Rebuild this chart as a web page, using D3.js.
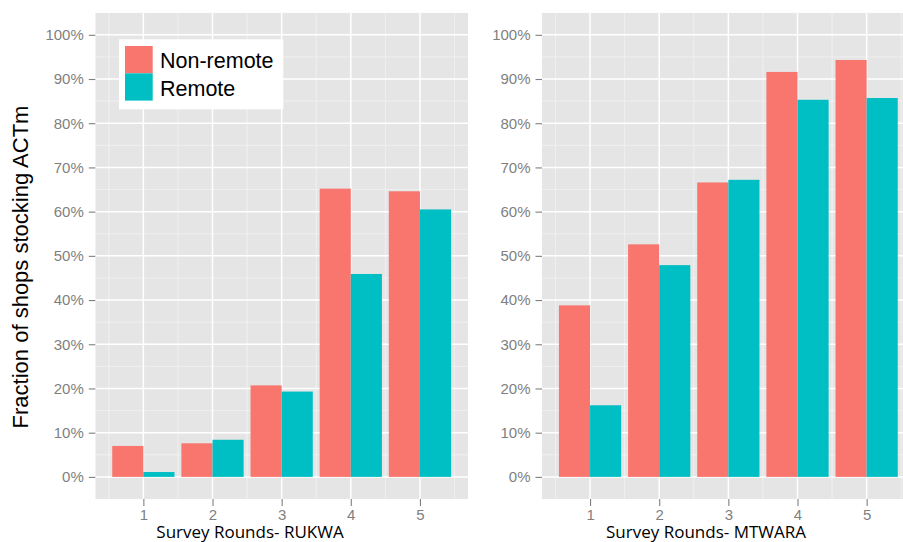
<!DOCTYPE html>
<html>
<head>
<meta charset="utf-8">
<script src="https://cdn.jsdelivr.net/npm/d3@7/dist/d3.min.js"></script>
<style>
  html, body { margin: 0; padding: 0; background: #fff; }
  svg { display: block; }
</style>
</head>
<body>
<div id="chart"></div>
<script>
// ---- Data ----
const rounds = [1, 2, 3, 4, 5];
const seriesNames = ["Non-remote", "Remote"];
const rukwaNonRemote = [7.0, 7.6, 20.7, 65.2, 64.6];
const rukwaRemote    = [1.1, 8.4, 19.3, 45.9, 60.5];
const mtwaraNonRemote = [38.8, 52.6, 66.6, 91.6, 94.3];
const mtwaraRemote    = [16.2, 47.9, 67.2, 85.3, 85.7];
const yTicks = [0, 10, 20, 30, 40, 50, 60, 70, 80, 90, 100];
const panelTitles = ["Survey Rounds- RUKWA", "Survey Rounds- MTWARA"];
const yTitle = "Fraction of shops stocking ACTm";

const colors = ["#F8766D", "#00BFC4"];
const W = 903, H = 542;

const svg = d3.select("#chart").append("svg")
  .attr("width", W).attr("height", H)
  .attr("font-family", "Liberation Sans, Arial, sans-serif");

const plotTop = 12.7, plotBottom = 499;
const y = d3.scaleLinear().domain([-5, 105]).range([plotBottom, plotTop]);

function drawPanel(x0, x1, nonRemote, remote, title, titleX, clipId) {
  const x = d3.scaleLinear().domain([0.305, 5.695]).range([x0, x1]);
  const clipRight = Math.min(x1, W);
  svg.append("clipPath").attr("id", clipId)
    .append("rect").attr("x", x0).attr("y", plotTop)
    .attr("width", clipRight - x0).attr("height", plotBottom - plotTop);
  const g = svg.append("g").attr("clip-path", `url(#${clipId})`);
  g.append("rect").attr("x", x0).attr("y", plotTop)
    .attr("width", x1 - x0).attr("height", plotBottom - plotTop).attr("fill", "#E5E5E5");

  // minor grid
  const minorY = yTicks.slice(0, -1).map(d => d + 5);
  g.selectAll(".minY").data(minorY).enter().append("line")
    .attr("x1", x0).attr("x2", x1).attr("y1", d => y(d)).attr("y2", d => y(d))
    .attr("stroke", "#F2F2F2").attr("stroke-width", 0.8);
  const minorX = rounds.map(d => d - 0.5).concat([5.5]);
  g.selectAll(".minX").data(minorX).enter().append("line")
    .attr("y1", plotTop).attr("y2", plotBottom).attr("x1", d => x(d)).attr("x2", d => x(d))
    .attr("stroke", "#F2F2F2").attr("stroke-width", 0.8);
  // major grid
  g.selectAll(".majY").data(yTicks).enter().append("line")
    .attr("x1", x0).attr("x2", x1).attr("y1", d => y(d)).attr("y2", d => y(d))
    .attr("stroke", "#FFFFFF").attr("stroke-width", 1.5);
  g.selectAll(".majX").data(rounds).enter().append("line")
    .attr("y1", plotTop).attr("y2", plotBottom).attr("x1", d => x(d)).attr("x2", d => x(d))
    .attr("stroke", "#FFFFFF").attr("stroke-width", 1.5);

  // bars
  const bw = 0.45;
  [nonRemote, remote].forEach((vals, si) => {
    g.selectAll(".bar" + si).data(rounds).enter().append("rect")
      .attr("x", (d) => x(d - bw + si * bw))
      .attr("width", (d) => x(d + si * bw) - x(d - bw + si * bw))
      .attr("y", (d, i) => y(vals[i]))
      .attr("height", (d, i) => y(0) - y(vals[i]))
      .attr("fill", colors[si]);
  });

  // y axis
  const yAxis = d3.axisLeft(y).tickValues(yTicks).tickSize(6.5).tickPadding(5)
    .tickFormat(d => d + "%");
  const ya = svg.append("g").attr("transform", `translate(${x0},0)`).call(yAxis);
  ya.select(".domain").remove();
  ya.selectAll("line").attr("stroke", "#7F7F7F").attr("stroke-width", 1.1);
  ya.selectAll("text").attr("fill", "#7F7F7F").attr("font-size", 15)
    .attr("font-family", "Liberation Sans, Arial, sans-serif");

  // x axis
  const xAxis = d3.axisBottom(x).tickValues(rounds).tickSize(7).tickPadding(3)
    .tickFormat(d3.format("d"));
  const xa = svg.append("g").attr("transform", `translate(0,${plotBottom})`).call(xAxis);
  xa.select(".domain").remove();
  xa.selectAll("line").attr("stroke", "#7F7F7F").attr("stroke-width", 1.1);
  xa.selectAll("text").attr("fill", "#7F7F7F").attr("font-size", 15)
    .attr("font-family", "Liberation Sans, Arial, sans-serif");

  svg.append("text").attr("x", titleX).attr("y", 538)
    .attr("text-anchor", "middle").attr("font-size", 17)
    .attr("font-family", "Open Sans, sans-serif").attr("fill", "#000")
    .text(title);
}

drawPanel(95.3, 468, rukwaNonRemote, rukwaRemote, panelTitles[0], 250, "clipL");
drawPanel(542, 914.7, mtwaraNonRemote, mtwaraRemote, panelTitles[1], 706, "clipR");

// y title
svg.append("text")
  .attr("transform", "translate(28,267) rotate(-90)")
  .attr("text-anchor", "middle").attr("font-size", 22).attr("fill", "#000")
  .text(yTitle);

// legend
const lg = svg.append("g");
lg.append("rect").attr("x", 119).attr("y", 39.3).attr("width", 164.3).attr("height", 70)
  .attr("fill", "#FFFFFF");
seriesNames.forEach((name, i) => {
  lg.append("rect").attr("x", 125).attr("y", 46 + i * 27.3)
    .attr("width", 27.7).attr("height", 27.3).attr("fill", colors[i]);
  lg.append("text").attr("x", 160).attr("y", 68 + i * 27.8)
    .attr("font-size", 21.5).attr("fill", "#000").text(name);
});
</script>
</body>
</html>
